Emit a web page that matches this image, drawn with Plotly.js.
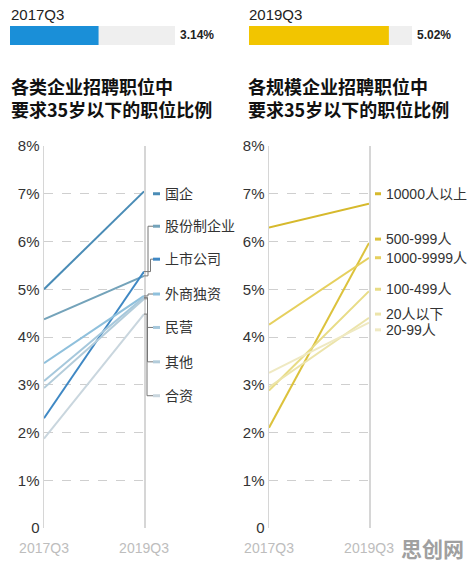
<!DOCTYPE html>
<html><head><meta charset="utf-8">
<script src="https://cdn.plot.ly/plotly-3.0.1.min.js"></script>
<style>html,body{margin:0;padding:0;background:#fff}#c{width:473px;height:562px}</style>
</head><body><div id="c"></div>
<script>
// ---- data ----
const periods = ['2017Q3', '2019Q3'];
const typeNames = ['国企', '股份制企业', '上市公司', '外商独资', '民营', '其他', '合资'];
const type2017 = [5.0, 4.37, 2.3, 3.45, 3.08, 2.93, 1.87];
const type2019 = [7.05, 5.28, 5.37, 4.86, 4.83, 4.8, 4.48];
const sizeNames = ['10000人以上', '500-999人', '1000-9999人', '100-499人', '20人以下', '20-99人'];
const size2017 = [6.29, 2.1, 4.26, 2.88, 2.95, 3.25];
const size2019 = [6.79, 5.97, 5.66, 4.96, 4.4, 4.3];
const overallPeriods = ['2017Q3', '2019Q3'];
const overallValues = [3.14, 5.02];
const yTickVals = [0, 1, 2, 3, 4, 5, 6, 7, 8];
const yTickText = ['0', '1%', '2%', '3%', '4%', '5%', '6%', '7%', '8%'];

// ---- styles / layout constants ----
const typeColors = ['#4a8cb6', '#74a3ba', '#3f88c4', '#8fc0dc', '#a6c8dc', '#b3ccda', '#c9d6de'];
const typeLabelY = [7.0, 6.32, 5.63, 4.9, 4.2, 3.48, 2.77];
const typeConnX = [null, 1.04, 1.065, 1.04, 1.035, 1.035, 1.03];
const sizeColors = ['#d6b92c', '#dcc23c', '#e6d05e', '#e8dc86', '#ece4aa', '#efe9c2'];
const sizeLabelY = [7.0, 6.05, 5.66, 5.0, 4.48, 4.15];
const barMax = 5.85;
const barColors = ['#1a8fd8', '#f2c500'];
const FONT = 'Liberation Sans, Arial, Noto Sans CJK SC, sans-serif';
const W = 473, H = 562;
const px = v => v / W, py = v => (H - v) / H;

const traces = [];
typeNames.forEach((n, i) => traces.push({
  type: 'scatter', mode: 'lines', x: periods, y: [type2017[i], type2019[i]],
  xaxis: 'x', yaxis: 'y', name: n, line: {color: typeColors[i], width: 2}, hoverinfo: 'skip'
}));
sizeNames.forEach((n, i) => traces.push({
  type: 'scatter', mode: 'lines', x: periods, y: [size2017[i], size2019[i]],
  xaxis: 'x2', yaxis: 'y2', name: n, line: {color: sizeColors[i], width: 2}, hoverinfo: 'skip'
}));
overallValues.forEach((v, i) => traces.push({
  type: 'bar', orientation: 'h', x: [v], y: [overallPeriods[i]], width: 1,
  xaxis: i ? 'x4' : 'x3', yaxis: i ? 'y4' : 'y3',
  marker: {color: barColors[i], line: {width: 0}}, hoverinfo: 'skip'
}));

const shapes = [], annotations = [];
// bar tracks
['x3', 'x4'].forEach((ax, i) => shapes.push({
  type: 'rect', xref: ax + ' domain', yref: (i ? 'y4' : 'y3') + ' domain',
  x0: 0, x1: 1, y0: 0, y1: 1, fillcolor: '#efefef', line: {width: 0}, layer: 'below'
}));
overallValues.forEach((v, i) => {
  annotations.push({
    xref: (i ? 'x4' : 'x3') + ' domain', yref: (i ? 'y4' : 'y3') + ' domain', x: 1.02, y: 0.5,
    xanchor: 'left', yanchor: 'middle', showarrow: false,
    text: '<b>' + v.toFixed(2) + '%</b>', font: {family: FONT, size: 12, color: '#222'}
  });
  annotations.push({
    xref: 'paper', yref: 'paper', x: px(i ? 247 : 9), y: py(15), xanchor: 'left', yanchor: 'middle',
    showarrow: false, text: overallPeriods[i], font: {family: FONT, size: 15, color: '#222'}
  });
});
// titles
['各类企业招聘职位中<br>要求35岁以下的职位比例', '各规模企业招聘职位中<br>要求35岁以下的职位比例'].forEach((t, i) =>
  annotations.push({
    xref: 'paper', yref: 'paper', x: px(i ? 246 : 9), y: py(71), xanchor: 'left', yanchor: 'top',
    align: 'left', showarrow: false, text: '<b>' + t + '</b>',
    font: {family: 'Noto Sans CJK SC, sans-serif', size: 18, color: '#111'}
  }));
// left labels, dashes, connectors
typeNames.forEach((n, i) => {
  shapes.push({type: 'line', xref: 'x domain', yref: 'y', x0: 1.09, x1: 1.16,
    y0: typeLabelY[i], y1: typeLabelY[i], line: {color: typeColors[i], width: 3}});
  if (typeConnX[i] !== null) {
    const cx = typeConnX[i];
    shapes.push({type: 'path', xref: 'x domain', yref: 'y',
      path: `M 1 ${type2019[i]} L ${cx} ${type2019[i]} L ${cx} ${typeLabelY[i]} L 1.09 ${typeLabelY[i]}`,
      line: {color: '#777', width: 1}});
  }
  annotations.push({xref: 'x domain', yref: 'y', x: 1.19, y: typeLabelY[i], xanchor: 'left', yanchor: 'middle',
    showarrow: false, text: n, font: {family: FONT, size: 14, color: '#333'}});
});
// right labels
sizeNames.forEach((n, i) => {
  shapes.push({type: 'line', xref: 'x2 domain', yref: 'y2', x0: 1.06, x1: 1.12,
    y0: sizeLabelY[i], y1: sizeLabelY[i], line: {color: sizeColors[i], width: 3}});
  annotations.push({xref: 'x2 domain', yref: 'y2', x: 1.15, y: sizeLabelY[i], xanchor: 'left', yanchor: 'middle',
    showarrow: false, text: n, font: {family: FONT, size: 14, color: '#333'}});
});
// watermark
annotations.push({xref: 'paper', yref: 'paper', x: px(466), y: py(548), xanchor: 'right', yanchor: 'middle',
  showarrow: false, text: '<b>思创网</b>', font: {family: 'Noto Sans CJK SC, sans-serif', size: 21, color: '#a0a0a0'}});

const xAx = d => ({domain: d, type: 'category', range: [0, 1], showgrid: false, zeroline: false, showline: false,
  ticks: '', ticklabelstandoff: 10, tickfont: {family: FONT, size: 14, color: '#bdbdbd'}, automargin: false, fixedrange: true});
const yAx = () => ({domain: [py(528), py(146)], range: [0, 8], tickvals: yTickVals, ticktext: yTickText,
  showgrid: true, gridcolor: '#cfcfcf', griddash: 'dash', gridwidth: 1, zeroline: false,
  showline: true, mirror: true, linecolor: '#d6d6d6', linewidth: 1.5, ticks: '',
  tickfont: {family: FONT, size: 15, color: '#333'}, automargin: false, fixedrange: true});
const barX = (d) => ({domain: d, range: [0, barMax], visible: false, fixedrange: true});
const barY = () => ({domain: [py(45), py(26)], range: [-0.5, 0.5], type: 'category', visible: false, fixedrange: true});

const layout = {
  width: W, height: H, margin: {l: 0, r: 0, t: 0, b: 0}, paper_bgcolor: '#fff', plot_bgcolor: 'rgba(0,0,0,0)',
  showlegend: false, hovermode: false, barmode: 'overlay',
  xaxis: xAx([px(44), px(144)]), yaxis: Object.assign(yAx(), {anchor: 'x'}),
  xaxis2: Object.assign(xAx([px(269), px(369)]), {anchor: 'y2'}), yaxis2: Object.assign(yAx(), {anchor: 'x2'}),
  xaxis3: Object.assign(barX([px(10), px(175)]), {anchor: 'y3'}), yaxis3: Object.assign(barY(), {anchor: 'x3'}),
  xaxis4: Object.assign(barX([px(249), px(412)]), {anchor: 'y4'}), yaxis4: Object.assign(barY(), {anchor: 'x4'}),
  shapes: shapes, annotations: annotations
};
layout.xaxis.anchor = 'y';
Plotly.newPlot('c', traces, layout, {staticPlot: true, displayModeBar: false});
</script></body></html>
